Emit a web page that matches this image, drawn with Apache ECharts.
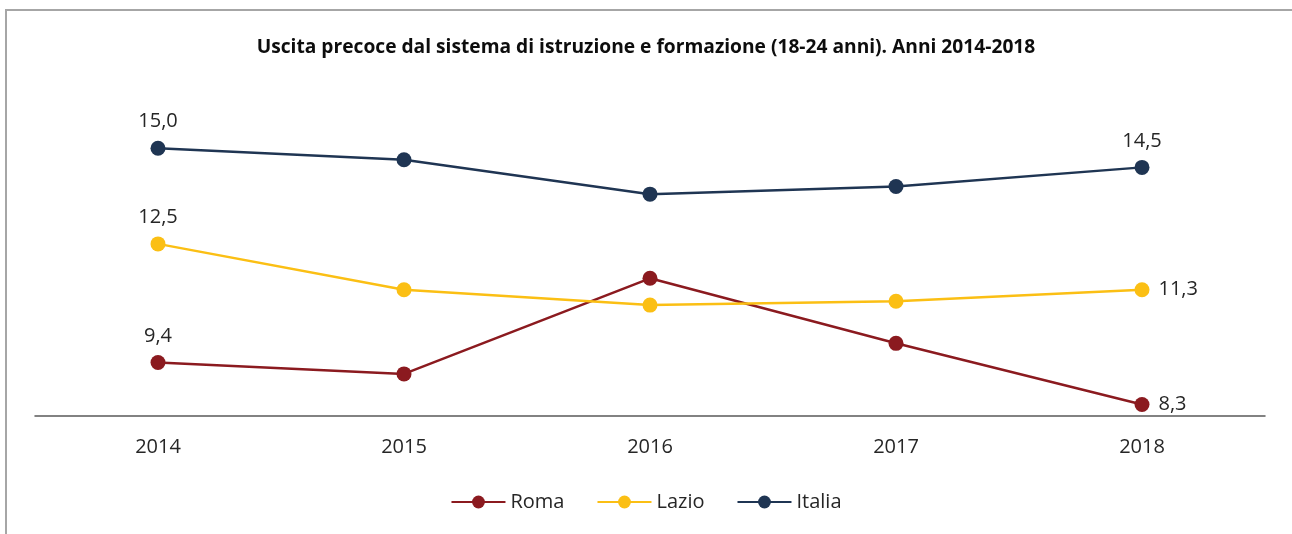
<!DOCTYPE html>
<html>
<head>
<meta charset="utf-8">
<script src="https://cdn.jsdelivr.net/npm/echarts@6/dist/echarts.min.js"></script>
<style>
  html, body { margin: 0; padding: 0; background: #fff; }
  #chart { width: 1292px; height: 534px; }
</style>
</head>
<body>
<div id="chart"></div>
<script>
// Anni e valori (%) per area territoriale
const anni = ['2014', '2015', '2016', '2017', '2018'];
const roma = [9.4, 9.1, 11.6, 9.9, 8.3];
const lazio = [12.5, 11.3, 10.9, 11.0, 11.3];
const italia = [15.0, 14.7, 13.8, 14.0, 14.5];

const FONT = 'Open Sans';
const fmt = v => v.toFixed(1).replace('.', ',');

// Etichette solo sul primo e sull'ultimo anno
function withLabels(values, lastPos) {
  return values.map((v, i) => {
    if (i === 0) return { value: v, label: { show: true, position: 'top', distance: 9 } };
    if (i === values.length - 1) return { value: v, label: { show: true, position: lastPos, distance: 9 } };
    return v;
  });
}

function serie(name, values, color, lastPos) {
  return {
    name, type: 'line', data: withLabels(values, lastPos),
    symbol: 'circle', symbolSize: 15,
    lineStyle: { color, width: 2.5 },
    itemStyle: { color },
    label: {
      show: false, color: '#262626', fontFamily: FONT, fontSize: 20,
      formatter: p => fmt(p.value)
    },
    emphasis: { disabled: true },
    animation: false
  };
}

const chart = echarts.init(document.getElementById('chart'), null, { renderer: 'canvas' });
chart.setOption({
  backgroundColor: '#fff',
  title: {
    text: 'Uscita precoce dal sistema di istruzione e formazione (18-24 anni). Anni 2014-2018',
    left: 'center', top: 33,
    textStyle: { fontFamily: FONT, fontWeight: 'bold', fontSize: 19.2, color: '#0d0d0d' }
  },
  graphic: [{
    type: 'polyline',
    shape: { points: [[6, 534], [6, 10], [1292, 10]] },
    style: { stroke: '#a6a6a6', lineWidth: 2, fill: null },
    silent: true
  }],
  legend: {
    bottom: 17, left: 'center',
    itemWidth: 54, itemHeight: 16, itemGap: 32,
    textStyle: { fontFamily: FONT, fontSize: 20, color: '#262626' },
    data: ['Roma', 'Lazio', 'Italia']
  },
  grid: { left: 35, right: 27, top: 110, bottom: 118 },
  xAxis: {
    type: 'category', data: anni, boundaryGap: true,
    axisLine: { lineStyle: { color: '#595959', width: 1.5 } },
    axisTick: { show: false },
    axisLabel: { fontFamily: FONT, fontSize: 20, color: '#262626', margin: 21 }
  },
  yAxis: {
    type: 'value', min: 8, max: 16, interval: 2,
    show: false
  },
  series: [
    serie('Roma', roma, '#8b1a1f', 'right'),
    serie('Lazio', lazio, '#fbbf14', 'right'),
    serie('Italia', italia, '#1f3553', 'top')
  ]
});
</script>
</body>
</html>
